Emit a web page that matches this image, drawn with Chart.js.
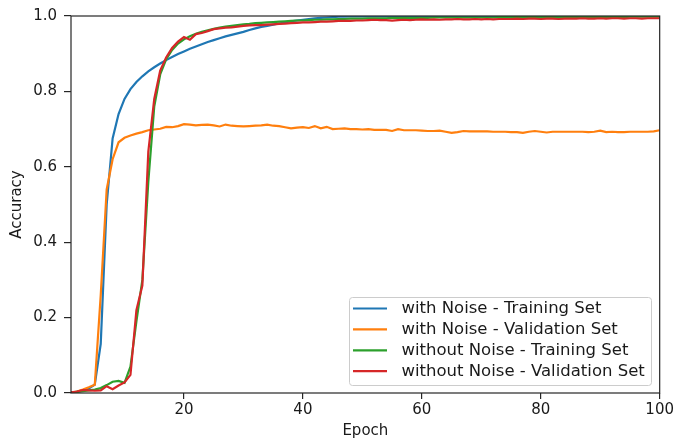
<!DOCTYPE html>
<html>
<head>
<meta charset="utf-8">
<script src="https://cdn.jsdelivr.net/npm/chart.js@4"></script>
<style>
  html, body { margin: 0; padding: 0; background: #fff; }
  #accChart { display: block; }
</style>
</head>
<body>
<canvas id="accChart" width="676" height="441"></canvas>
<script>
// epoch numbers for the x axis
const epochs = Array.from({ length: 100 }, (_, i) => i + 1);

const withNoiseTrain = [
  0.000, 0.003, 0.007, 0.012, 0.022, 0.130, 0.500, 0.675, 0.740, 0.780,
  0.806, 0.825, 0.840, 0.853, 0.864, 0.874, 0.883, 0.891, 0.899, 0.906,
  0.913, 0.919, 0.925, 0.931, 0.936, 0.941, 0.946, 0.950, 0.954, 0.958,
  0.963, 0.967, 0.971, 0.974, 0.977, 0.980, 0.983, 0.986, 0.988, 0.990,
  0.992, 0.994, 0.995, 0.996, 0.997, 0.998, 0.998, 0.999, 0.999, 0.999,
  0.999, 0.999, 0.999, 0.999, 0.999, 0.999, 0.999, 0.999, 0.999, 0.999,
  0.999, 0.999, 1.000, 0.999, 1.000, 1.000, 1.000, 1.000, 1.000, 1.000,
  1.000, 1.000, 1.000, 1.000, 1.000, 1.000, 1.000, 1.000, 1.000, 1.000,
  1.000, 1.000, 1.000, 1.000, 1.000, 1.000, 1.000, 1.000, 1.000, 1.000,
  1.000, 1.000, 1.000, 1.000, 1.000, 1.000, 1.000, 1.000, 1.000, 1.000
];

const withNoiseVal = [
  0.000, 0.004, 0.009, 0.015, 0.022, 0.260, 0.540, 0.620, 0.665, 0.677,
  0.683, 0.688, 0.692, 0.697, 0.699, 0.701, 0.706, 0.705, 0.708, 0.713,
  0.712, 0.710, 0.711, 0.712, 0.710, 0.707, 0.712, 0.709, 0.708, 0.707,
  0.708, 0.709, 0.710, 0.712, 0.709, 0.708, 0.705, 0.702, 0.704, 0.705,
  0.703, 0.708, 0.702, 0.706, 0.700, 0.701, 0.702, 0.700, 0.700, 0.699,
  0.700, 0.698, 0.698, 0.698, 0.695, 0.700, 0.697, 0.697, 0.697, 0.696,
  0.695, 0.695, 0.696, 0.693, 0.690, 0.692, 0.695, 0.694, 0.694, 0.694,
  0.694, 0.693, 0.693, 0.693, 0.692, 0.692, 0.690, 0.693, 0.695, 0.693,
  0.691, 0.693, 0.693, 0.693, 0.693, 0.693, 0.693, 0.692, 0.693, 0.696,
  0.692, 0.693, 0.692, 0.692, 0.693, 0.693, 0.693, 0.693, 0.694, 0.697
];

const withoutNoiseTrain = [
  0.001, 0.003, 0.005, 0.007, 0.009, 0.013, 0.021, 0.030, 0.032, 0.027,
  0.070, 0.190, 0.300, 0.560, 0.760, 0.845, 0.885, 0.910, 0.927, 0.938,
  0.946, 0.953, 0.958, 0.962, 0.966, 0.969, 0.972, 0.974, 0.976, 0.978,
  0.979, 0.981, 0.982, 0.983, 0.984, 0.985, 0.986, 0.987, 0.988, 0.988,
  0.989, 0.990, 0.990, 0.991, 0.991, 0.992, 0.992, 0.993, 0.993, 0.993,
  0.994, 0.994, 0.994, 0.994, 0.995, 0.995, 0.995, 0.995, 0.995, 0.995,
  0.995, 0.996, 0.996, 0.996, 0.996, 0.996, 0.996, 0.996, 0.996, 0.996,
  0.996, 0.996, 0.997, 0.997, 0.997, 0.997, 0.997, 0.997, 0.997, 0.997,
  0.997, 0.997, 0.997, 0.997, 0.997, 0.997, 0.997, 0.997, 0.997, 0.997,
  0.997, 0.997, 0.998, 0.997, 0.998, 0.998, 0.998, 0.998, 0.998, 0.998
];

const withoutNoiseVal = [
  0.002, 0.004, 0.008, 0.007, 0.006, 0.007, 0.018, 0.010, 0.020, 0.028,
  0.048, 0.220, 0.285, 0.640, 0.780, 0.855, 0.890, 0.915, 0.932, 0.944,
  0.937, 0.952, 0.955, 0.960, 0.965, 0.967, 0.969, 0.970, 0.972, 0.974,
  0.975, 0.976, 0.976, 0.977, 0.978, 0.979, 0.980, 0.981, 0.982, 0.983,
  0.983, 0.984, 0.985, 0.985, 0.986, 0.987, 0.987, 0.987, 0.988, 0.988,
  0.989, 0.990, 0.989, 0.989, 0.988, 0.989, 0.990, 0.989, 0.990, 0.991,
  0.990, 0.991, 0.990, 0.991, 0.991, 0.992, 0.991, 0.991, 0.992, 0.991,
  0.992, 0.991, 0.992, 0.992, 0.992, 0.993, 0.992, 0.993, 0.993, 0.992,
  0.993, 0.993, 0.992, 0.993, 0.993, 0.993, 0.994, 0.993, 0.993, 0.994,
  0.993, 0.994, 0.994, 0.993, 0.994, 0.994, 0.993, 0.994, 0.994, 0.994
];

const seriesLabels = [
  'with Noise - Training Set',
  'with Noise - Validation Set',
  'without Noise - Training Set',
  'without Noise - Validation Set'
];
const seriesValues = [withNoiseTrain, withNoiseVal, withoutNoiseTrain, withoutNoiseVal];
const seriesColors = ['#1f77b4', '#ff7f0e', '#2ca02c', '#d62728'];

const xTicks = [20, 40, 60, 80, 100];
const yTicks = [0.0, 0.2, 0.4, 0.6, 0.8, 1.0];

const AXIS_COLOR = '#262626';
const TEXT_COLOR = '#1a1a1a';
const FONT = 'DejaVu Sans';

Chart.defaults.font.family = FONT;
Chart.defaults.font.size = 15;
Chart.defaults.color = TEXT_COLOR;

// axes frame on all four sides, then a boxed legend in the lower right
const frameAndLegend = {
  id: 'frameAndLegend',
  afterDatasetsDraw(chart) {
    const { ctx, chartArea: a } = chart;
    ctx.save();
    ctx.strokeStyle = AXIS_COLOR;
    ctx.lineWidth = 1.2;
    ctx.strokeRect(a.left, a.top, a.right - a.left, a.bottom - a.top);

    const box = { x: 349.5, y: 297.5, w: 302, h: 88 };
    ctx.beginPath();
    ctx.roundRect(box.x, box.y, box.w, box.h, 3);
    ctx.fillStyle = 'rgba(255,255,255,0.8)';
    ctx.fill();
    ctx.strokeStyle = '#cccccc';
    ctx.lineWidth = 1;
    ctx.stroke();

    ctx.font = '16.5px "' + FONT + '"';
    ctx.textAlign = 'left';
    ctx.textBaseline = 'middle';
    chart.data.datasets.forEach((ds, i) => {
      const y = 308.5 + i * 20.9;
      ctx.beginPath();
      ctx.moveTo(353, y);
      ctx.lineTo(387, y);
      ctx.strokeStyle = ds.borderColor;
      ctx.lineWidth = 2.2;
      ctx.stroke();
      ctx.fillStyle = TEXT_COLOR;
      ctx.fillText(ds.label, 401.5, y + 0.7);
    });
    ctx.restore();
  }
};

const datasets = seriesValues.map((vals, i) => ({
  label: seriesLabels[i],
  data: vals.map((v, j) => ({ x: epochs[j], y: v })),
  borderColor: seriesColors[i],
  backgroundColor: seriesColors[i],
  borderWidth: 2.2,
  pointRadius: 0,
  tension: 0,
  fill: false,
  order: seriesValues.length - 1 - i
}));

new Chart(document.getElementById('accChart'), {
  type: 'line',
  data: { datasets: datasets },
  options: {
    responsive: false,
    animation: false,
    events: [],
    layout: { padding: { top: 14, right: 15, bottom: 0, left: 0 } },
    plugins: {
      legend: { display: false },
      tooltip: { enabled: false }
    },
    scales: {
      x: {
        type: 'linear',
        min: 1,
        max: 100,
        afterBuildTicks: (scale) => { scale.ticks = xTicks.map(v => ({ value: v })); },
        afterFit: (scale) => { scale.height = 48; },
        ticks: { padding: 2, maxRotation: 0, callback: (v) => String(v) },
        grid: { drawOnChartArea: false, drawTicks: true, tickLength: 6, color: AXIS_COLOR, lineWidth: 1.2 },
        border: { display: false },
        title: { display: true, text: 'Epoch', padding: { top: 0, bottom: 1 } }
      },
      y: {
        type: 'linear',
        min: 0,
        max: 1,
        afterBuildTicks: (scale) => { scale.ticks = yTicks.map(v => ({ value: v })); },
        afterFit: (scale) => { scale.width = 71; },
        ticks: { padding: 7, callback: (v) => v.toFixed(1) },
        grid: { drawOnChartArea: false, drawTicks: true, tickLength: 7, color: AXIS_COLOR, lineWidth: 1.2 },
        border: { display: false },
        title: { display: true, text: 'Accuracy', padding: { top: 8, bottom: 0 } }
      }
    }
  },
  plugins: [frameAndLegend]
});
</script>
</body>
</html>
